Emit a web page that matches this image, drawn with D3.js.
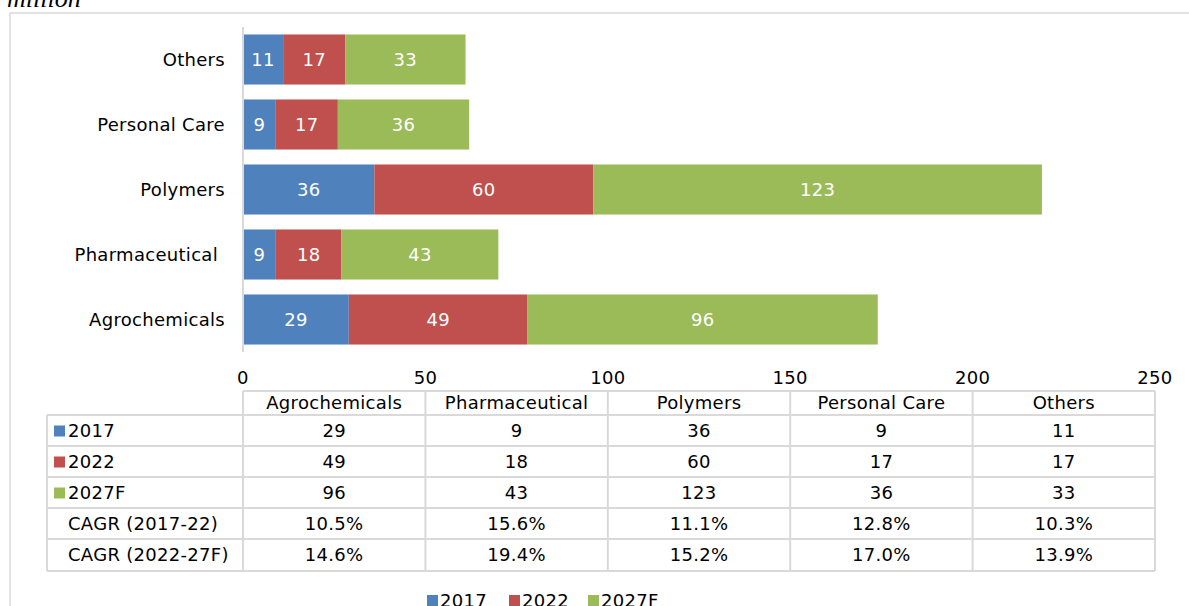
<!DOCTYPE html>
<html>
<head>
<meta charset="utf-8">
<script src="https://cdn.jsdelivr.net/npm/d3@7"></script>
<style>
  body { margin: 0; background: #fff; }
  svg { display: block; }
</style>
</head>
<body>
<div id="chart"></div>
<script>
// data
var categories = ["Agrochemicals", "Pharmaceutical", "Polymers", "Personal Care", "Others"];
var seriesNames = ["2017", "2022", "2027F"];
var values2017 = [29, 9, 36, 9, 11];
var values2022 = [49, 18, 60, 17, 17];
var values2027 = [96, 43, 123, 36, 33];
var cagr1722 = ["10.5%", "15.6%", "11.1%", "12.8%", "10.3%"];
var cagr2227 = ["14.6%", "19.4%", "15.2%", "17.0%", "13.9%"];
var xTicks = [0, 50, 100, 150, 200, 250];
var colors = ["#4f81bd", "#c0504d", "#9bbb59"];

var W = 1189, H = 606;
var font = "DejaVu Sans, Verdana, sans-serif";
var fs = 18;

var svg = d3.select("#chart").append("svg")
    .attr("width", W)
    .attr("height", H)
    .style("font-family", font)
    .attr("letter-spacing", 0.3);

// unit label cut off at the top
svg.append("text")
    .attr("x", 7).attr("y", 7)
    .attr("font-family", "Liberation Serif, serif")
    .attr("font-style", "italic")
    .attr("font-size", 26)
    .attr("letter-spacing", 0)
    .attr("fill", "#000")
    .text("million");

// outer frame
svg.append("rect")
    .attr("x", 10).attr("y", 13)
    .attr("width", W).attr("height", H)
    .attr("fill", "none")
    .attr("stroke", "#d9d9d9")
    .attr("stroke-width", 1.5);

var x = d3.scaleLinear().domain([0, 250]).range([243, 1155]);

// bars, top to bottom reversed order
var y = d3.scaleBand()
    .domain(categories.slice().reverse())
    .range([27, 352])
    .paddingInner(0.23)
    .paddingOuter(0.115);

var series = [values2017, values2022, values2027];
var stacked = categories.map(function(c, i) {
    var start = 0;
    return series.map(function(s, k) {
        var seg = {cat: c, k: k, v: s[i], x0: start, x1: start + s[i]};
        start += s[i];
        return seg;
    });
});
var segs = [].concat.apply([], stacked);

svg.selectAll("rect.bar")
    .data(segs)
    .enter()
    .append("rect")
        .attr("class", "bar")
        .attr("x", function(d) { return x(d.x0); })
        .attr("y", function(d) { return y(d.cat); })
        .attr("width", function(d) { return x(d.x1) - x(d.x0); })
        .attr("height", y.bandwidth())
        .attr("fill", function(d) { return colors[d.k]; });

svg.selectAll("text.barlabel")
    .data(segs)
    .enter()
    .append("text")
        .attr("class", "barlabel")
        .attr("x", function(d) { return (x(d.x0) + x(d.x1)) / 2; })
        .attr("y", function(d) { return y(d.cat) + y.bandwidth() / 2; })
        .attr("dy", "0.35em")
        .attr("text-anchor", "middle")
        .attr("font-size", fs)
        .attr("fill", "#fff")
        .text(function(d) { return d.v; });

// category labels
svg.selectAll("text.cat")
    .data(categories)
    .enter()
    .append("text")
        .attr("class", "cat")
        .attr("x", function(d) { return d === "Pharmaceutical" ? 218 : 225; })
        .attr("y", function(d) { return y(d) + y.bandwidth() / 2; })
        .attr("dy", "0.35em")
        .attr("text-anchor", "end")
        .attr("font-size", fs)
        .attr("fill", "#000")
        .text(function(d) { return d; });

// vertical axis line
svg.append("line")
    .attr("x1", 243).attr("x2", 243)
    .attr("y1", 27).attr("y2", 352)
    .attr("stroke", "#d9d9d9")
    .attr("stroke-width", 2);

// x tick labels
svg.selectAll("text.tick")
    .data(xTicks)
    .enter()
    .append("text")
        .attr("class", "tick")
        .attr("x", function(d) { return x(d); })
        .attr("y", 384)
        .attr("text-anchor", "middle")
        .attr("font-size", fs)
        .attr("fill", "#000")
        .text(function(d) { return d; });

// data table
var grid = "#d9d9d9";
var colX = xTicks.map(function(d) { return x(d); });
var rowY = [391, 415, 446, 477, 508, 539, 571];
var tableLeft = 47;

var tbl = svg.append("g");
// header row cells (only for data columns)
tbl.append("line")
    .attr("x1", colX[0]).attr("x2", colX[5])
    .attr("y1", rowY[0]).attr("y2", rowY[0])
    .attr("stroke", grid).attr("stroke-width", 2);
rowY.slice(1).forEach(function(ry) {
    tbl.append("line")
        .attr("x1", tableLeft).attr("x2", colX[5])
        .attr("y1", ry).attr("y2", ry)
        .attr("stroke", grid).attr("stroke-width", 2);
});
colX.forEach(function(cx) {
    tbl.append("line")
        .attr("x1", cx).attr("x2", cx)
        .attr("y1", rowY[0]).attr("y2", rowY[6])
        .attr("stroke", grid).attr("stroke-width", 2);
});
tbl.append("line")
    .attr("x1", tableLeft).attr("x2", tableLeft)
    .attr("y1", rowY[1]).attr("y2", rowY[6])
    .attr("stroke", grid).attr("stroke-width", 2);

// header text
categories.forEach(function(c, i) {
    tbl.append("text")
        .attr("x", (colX[i] + colX[i + 1]) / 2)
        .attr("y", (rowY[0] + rowY[1]) / 2)
        .attr("dy", "0.35em")
        .attr("text-anchor", "middle")
        .attr("font-size", fs)
        .text(c);
});

var rows = [
    {label: seriesNames[0], vals: values2017, color: colors[0]},
    {label: seriesNames[1], vals: values2022, color: colors[1]},
    {label: seriesNames[2], vals: values2027, color: colors[2]},
    {label: "CAGR (2017-22)", vals: cagr1722},
    {label: "CAGR (2022-27F)", vals: cagr2227}
];

rows.forEach(function(r, j) {
    var cy = (rowY[j + 1] + rowY[j + 2]) / 2;
    if (r.color) {
        tbl.append("rect")
            .attr("x", 54).attr("y", cy - 5)
            .attr("width", 11).attr("height", 11)
            .attr("fill", r.color);
    }
    tbl.append("text")
        .attr("x", 68).attr("y", cy)
        .attr("dy", "0.35em")
        .attr("font-size", fs)
        .text(r.label);
    r.vals.forEach(function(v, i) {
        tbl.append("text")
            .attr("x", (colX[i] + colX[i + 1]) / 2)
            .attr("y", cy)
            .attr("dy", "0.35em")
            .attr("text-anchor", "middle")
            .attr("font-size", fs)
            .text(v);
    });
});

// legend at the bottom (cut off by the window edge, as in the reference)
var legendX = [427, 509, 588];
seriesNames.forEach(function(s, k) {
    svg.append("rect")
        .attr("x", legendX[k]).attr("y", 595)
        .attr("width", 11).attr("height", 11)
        .attr("fill", colors[k]);
    svg.append("text")
        .attr("x", legendX[k] + 13).attr("y", 601)
        .attr("dy", "0.35em")
        .attr("font-size", fs)
        .text(s);
});
</script>
</body>
</html>
